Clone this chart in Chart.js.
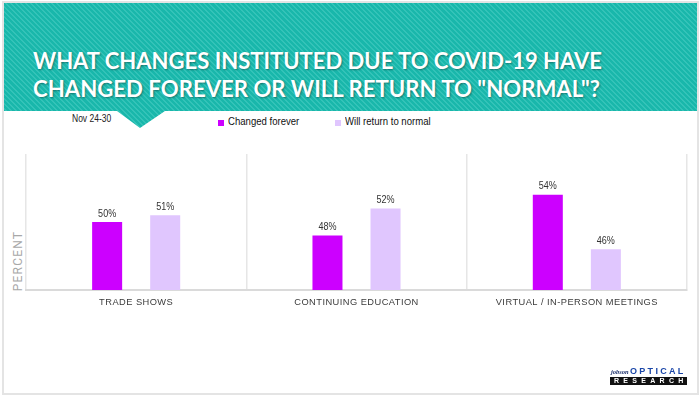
<!DOCTYPE html>
<html>
<head>
<meta charset="utf-8">
<script src="https://cdn.jsdelivr.net/npm/chart.js@4.4.1/dist/chart.umd.min.js"></script>
<style>
  html, body { margin:0; padding:0; background:#fff; }
  body { width:700px; height:397px; position:relative; overflow:hidden; font-family:'Liberation Sans',Arial,sans-serif; }
  #frame { position:absolute; left:2px; top:1px; width:697px; height:394px; box-sizing:border-box; border:2px solid #e4e4e4; }
  #band { position:absolute; left:4px; top:3px; width:693px; height:125px;
    background: repeating-linear-gradient(45deg, #19b7ab 0px, #19b7ab 2.2px, #33c3b8 2.2px, #33c3b8 3.6px);
    clip-path: polygon(0 0, 100% 0, 100% 108px, 161px 108px, 136px 125px, 113px 108px, 0 108px); }
  .tl { position:absolute; left:33px; font-family:Lato,'Open Sans',sans-serif; font-weight:700; font-size:23px; line-height:23px; color:#fff; white-space:nowrap; transform-origin:0 0; text-shadow:1px 1px 2px rgba(0,0,0,0.35); }
  #date { position:absolute; left:72px; top:113px; font-size:10px; color:#222; white-space:nowrap; transform-origin:0 0; transform:scaleX(0.85); }
  #legend { position:absolute; top:115px; font-size:11px; color:#111; }
  .lg { position:absolute; white-space:nowrap; transform-origin:0 0; transform:scaleX(0.87); }
  .sw { position:absolute; width:6px; height:6px; top:5px; }
  #ylab { position:absolute; left:18px; top:261px; transform:translate(-50%,-50%) rotate(-90deg); font-family:Roboto,sans-serif; font-size:12px; letter-spacing:1.2px; color:#a8a8a8; white-space:nowrap; }
  canvas { position:absolute; left:0; top:0; }
  #logo1 { position:absolute; left:611px; top:368px; font-family:'Liberation Serif',serif; font-style:italic; font-weight:700; font-size:6.5px; color:#1b2f6b; }
  #logo2 { position:absolute; left:630px; top:366px; font-family:'Liberation Sans',Arial,sans-serif; font-weight:700; font-size:9px; letter-spacing:2.3px; color:#1a46a8; }
  #logo3 { position:absolute; left:610px; top:377px; width:77px; height:8px; background:#111; color:#fff; font-family:'Liberation Sans',Arial,sans-serif; font-weight:700; font-size:7px; line-height:8px; letter-spacing:4.3px; text-align:center; text-indent:4px; }
</style>
</head>
<body>
<div id="frame"></div>
<div id="band"></div>
<div class="tl" id="t1">WHAT CHANGES INSTITUTED DUE TO COVID-19 HAVE</div>
<div class="tl" id="t2">CHANGED FOREVER OR WILL RETURN TO "NORMAL"?</div>
<div id="date">Nov 24-30</div>
<div id="legend"></div>
<div id="ylab">PERCENT</div>
<canvas id="c" width="700" height="397"></canvas>
<div id="logo1">jobson</div>
<div id="logo2">OPTICAL</div>
<div id="logo3">RESEARCH</div>
<script>
const categories = ['TRADE SHOWS', 'CONTINUING EDUCATION', 'VIRTUAL / IN-PERSON MEETINGS'];
const seriesNames = ['Changed forever', 'Will return to normal'];
const changedForever = [50, 48, 54];
const returnToNormal = [51, 52, 46];
const seriesColors = ['#cc00ff', '#e0c6fe'];

// fit title lines
[['t1', 53 - 4, 569], ['t2', 81 - 4, 567]].forEach(([id, top, w]) => {
  const el = document.getElementById(id);
  el.style.top = top + 'px';
  const s = w / el.getBoundingClientRect().width;
  el.style.transform = 'scaleX(' + s + ')';
});

// legend
const legend = document.getElementById('legend');
[[218, 0], [335, 1]].forEach(([x, i]) => {
  const sw = document.createElement('div');
  sw.className = 'sw'; sw.style.left = x + 'px'; sw.style.background = seriesColors[i];
  const t = document.createElement('div');
  t.className = 'lg'; t.style.left = (x + 10) + 'px'; t.textContent = seriesNames[i];
  legend.appendChild(sw); legend.appendChild(t);
});

const spacing = {
  id: 'spacing',
  beforeDraw(chart) { chart.ctx.letterSpacing = '0.45px'; },
  beforeDatasetsDraw(chart) { chart.ctx.letterSpacing = '0px'; }
};

const valueLabels = {
  id: 'valueLabels',
  afterDatasetsDraw(chart) {
    const ctx = chart.ctx;
    ctx.save();
    ctx.letterSpacing = '0px';
    ctx.font = "11px 'Liberation Sans', Arial, sans-serif";
    ctx.fillStyle = '#333';
    ctx.textAlign = 'center';
    ctx.textBaseline = 'bottom';
    chart.data.datasets.forEach((ds, di) => {
      chart.getDatasetMeta(di).data.forEach((bar, i) => {
        ctx.save();
        ctx.translate(bar.x, bar.y - 3);
        ctx.scale(0.82, 1);
        ctx.fillText(ds.data[i] + '%', 0, 0);
        ctx.restore();
      });
    });
    ctx.restore();
  }
};

new Chart(document.getElementById('c'), {
  type: 'bar',
  data: {
    labels: categories,
    datasets: [
      { label: seriesNames[0], data: changedForever, backgroundColor: seriesColors[0] },
      { label: seriesNames[1], data: returnToNormal, backgroundColor: seriesColors[1] }
    ]
  },
  options: {
    responsive: false,
    animation: false,
    devicePixelRatio: 1,
    layout: { padding: { left: 26, right: 13, top: 154, bottom: 87 } },
    datasets: { bar: { categoryPercentage: 0.527, barPercentage: 0.517 } },
    plugins: { legend: { display: false }, tooltip: { enabled: false } },
    scales: {
      x: {
        offset: true,
        grid: { display: true, offset: true, color: '#e6e6e6', lineWidth: 1.5, drawTicks: false },
        border: { display: true, color: '#dadada', width: 2 },
        ticks: { color: '#3a3a3a', padding: 7, maxRotation: 0, autoSkip: false,
          font: { family: "'Liberation Sans', Arial, sans-serif", size: 9.3 } },
        afterFit(scale) { scale.height = 20; }
      },
      y: { display: false, min: 40, max: 60, beginAtZero: false }
    }
  },
  plugins: [spacing, valueLabels]
});
</script>
</body>
</html>
